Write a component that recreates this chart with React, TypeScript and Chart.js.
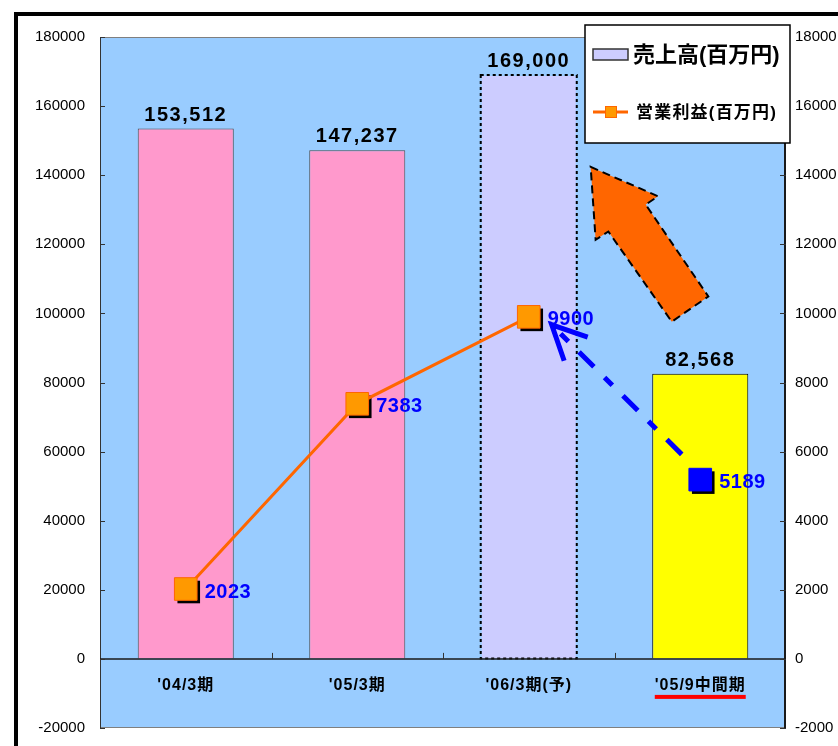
import React, { useEffect, useRef } from 'react';
import { Chart, registerables } from 'chart.js';

Chart.register(...registerables);

// ---- data ----
const categories: string[] = ["'04/3期", "'05/3期", "'06/3期(予)", "'05/9中間期"];
const salesValues: number[] = [153512, 147237, 169000, 82568];
const profitValues: number[] = [2023, 7383, 9900, 5189];
const salesLabel = '売上高(百万円)';
const profitLabel = '営業利益(百万円)';
const leftAxis = { min: -20000, max: 180000, step: 20000 };
const rightAxis = { min: -2000, max: 18000, step: 2000 };
const forecastIndex = 2; // dotted outline bar
const interimIndex = 3; // underlined / blue marker

// ---- styles ----
const barFill = ['#FF99CC', '#FF99CC', '#CCCCFF', '#FFFF00'];
const barBorder = ['#4D4D4D', '#4D4D4D', 'rgba(0,0,0,0)', '#000000'];
const pointFill = ['#FF9900', '#FF9900', '#FF9900', '#0000FF'];
const pointBorder = ['#FF6600', '#FF6600', '#FF6600', '#0000FF'];
const LATIN = '"Liberation Sans", Arial, "Noto Sans CJK JP", sans-serif';
const CJK = '"Liberation Sans", "Noto Sans CJK JP", sans-serif';

// annotation anchors in scale units (x: category index, y: axis value)
const trendArrowFrom = { x: 2.892, y: 5920 }; // y1 axis
const trendArrowTo = { x: 2.134, y: 9670 }; // y1 axis
const bigArrowPts: [number, number][] = [
  [2.361, 142400],
  [2.754, 133900],
  [2.682, 131500],
  [3.047, 104900],
  [2.834, 97600],
  [2.464, 123700],
  [2.39, 121300],
];

const fmt = (v: number) => v.toLocaleString('en-US');

const decorPlugin = {
  id: 'decor',
  beforeDraw(chart: any) {
    const { ctx, chartArea: a, width, height } = chart;
    ctx.save();
    ctx.fillStyle = '#FFFFFF';
    ctx.fillRect(0, 0, width, height);
    ctx.fillStyle = '#000000';
    ctx.fillRect(14, 12, 4, height - 12);
    ctx.fillRect(14, 12, width - 14, 4);
    ctx.fillStyle = '#99CCFF';
    ctx.fillRect(a.left, a.top, a.right - a.left, a.bottom - a.top);
    ctx.restore();
  },
  beforeDatasetDraw(chart: any, args: any) {
    const meta = args.meta;
    if (meta.type !== 'line') return;
    const { ctx } = chart;
    ctx.save();
    ctx.fillStyle = '#000000';
    const s = 22.6;
    meta.data.forEach((p: any) => {
      ctx.fillRect(p.x - s / 2 + 3, p.y - s / 2 + 3, s, s);
    });
    ctx.restore();
  },
  afterDatasetDraw(chart: any, args: any) {
    const meta = args.meta;
    if (meta.type !== 'bar') return;
    const { ctx } = chart;
    const bar = meta.data[forecastIndex];
    if (!bar) return;
    const { x, y, base, width } = bar.getProps(['x', 'y', 'base', 'width'], true);
    ctx.save();
    ctx.strokeStyle = '#000000';
    ctx.lineWidth = 2;
    ctx.setLineDash([3, 3]);
    ctx.strokeRect(x - width / 2, y, width, base - y);
    ctx.restore();
  },
  afterDatasetsDraw(chart: any) {
    const { ctx, chartArea: a, scales } = chart;
    const xs = scales.x;
    const ys = scales.y;
    const y1 = scales.y1;
    const zeroY = ys.getPixelForValue(0);
    ctx.save();

    // plot border
    ctx.strokeStyle = '#7F7F7F';
    ctx.lineWidth = 1;
    ctx.strokeRect(a.left + 0.5, a.top + 0.5, a.right - a.left - 1, a.bottom - a.top - 1);
    ctx.strokeStyle = '#333333';
    ctx.lineWidth = 1;
    ctx.beginPath();
    ctx.moveTo(a.left + 0.5, a.top);
    ctx.lineTo(a.left + 0.5, a.bottom);
    ctx.stroke();
    ctx.lineWidth = 2;
    ctx.strokeStyle = '#1A1A1A';
    ctx.beginPath();
    ctx.moveTo(a.right - 1, a.top);
    ctx.lineTo(a.right - 1, a.bottom);
    ctx.stroke();

    // zero line
    ctx.strokeStyle = '#1A1A1A';
    ctx.lineWidth = 1.5;
    ctx.beginPath();
    ctx.moveTo(a.left, zeroY);
    ctx.lineTo(a.right, zeroY);
    ctx.stroke();

    // inward ticks
    ctx.strokeStyle = '#333333';
    ctx.lineWidth = 1;
    ctx.beginPath();
    ys.ticks.forEach((t: any) => {
      const py = Math.round(ys.getPixelForValue(t.value)) + 0.5;
      ctx.moveTo(a.left, py);
      ctx.lineTo(a.left + 5, py);
    });
    y1.ticks.forEach((t: any) => {
      const py = Math.round(y1.getPixelForValue(t.value)) + 0.5;
      ctx.moveTo(a.right, py);
      ctx.lineTo(a.right - 6, py);
    });
    for (let i = 1; i < categories.length; i++) {
      const px = Math.round((xs.getPixelForValue(i - 1) + xs.getPixelForValue(i)) / 2) + 0.5;
      ctx.moveTo(px, zeroY);
      ctx.lineTo(px, zeroY - 6);
    }
    ctx.stroke();

    // category labels
    ctx.fillStyle = '#000000';
    ctx.font = `bold 16px ${CJK}`;
    (ctx as any).letterSpacing = '1px';
    ctx.textAlign = 'center';
    ctx.textBaseline = 'middle';
    categories.forEach((c, i) => {
      const px = xs.getPixelForValue(i);
      ctx.fillText(c, px, zeroY + 27);
      if (i === interimIndex) {
        const w = ctx.measureText(c).width;
        ctx.fillStyle = '#FF0000';
        ctx.fillRect(px - w / 2, zeroY + 36, w, 4);
        ctx.fillStyle = '#000000';
      }
    });

    // bar value labels
    const barMeta = chart.getDatasetMeta(1);
    ctx.font = `bold 20px ${LATIN}`;
    (ctx as any).letterSpacing = '1.5px';
    ctx.textAlign = 'center';
    ctx.textBaseline = 'alphabetic';
    barMeta.data.forEach((b: any, i: number) => {
      ctx.fillText(fmt(salesValues[i]), b.x, b.y - 8);
    });

    // point value labels
    const lineMeta = chart.getDatasetMeta(0);
    ctx.fillStyle = '#0000FF';
    ctx.font = `bold 20px ${LATIN}`;
    (ctx as any).letterSpacing = '0.5px';
    ctx.textAlign = 'left';
    ctx.textBaseline = 'middle';
    lineMeta.data.forEach((p: any, i: number) => {
      ctx.fillText(String(profitValues[i]), p.x + 19, p.y + 3);
    });
    (ctx as any).letterSpacing = '0px';

    // blue dashed trend arrow
    const fx = xs.getPixelForValue(trendArrowFrom.x);
    const fy = y1.getPixelForValue(trendArrowFrom.y);
    const tx = xs.getPixelForValue(trendArrowTo.x);
    const ty = y1.getPixelForValue(trendArrowTo.y);
    ctx.strokeStyle = '#0000FF';
    ctx.lineWidth = 5;
    ctx.lineCap = 'butt';
    ctx.setLineDash([21, 15, 11, 15]);
    ctx.beginPath();
    ctx.moveTo(fx, fy);
    ctx.lineTo(tx, ty);
    ctx.stroke();
    ctx.setLineDash([]);
    const ang = Math.atan2(fy - ty, fx - tx);
    const hl = 38;
    const spread = (26 * Math.PI) / 180;
    ctx.beginPath();
    ctx.moveTo(tx + hl * Math.cos(ang - spread), ty + hl * Math.sin(ang - spread));
    ctx.lineTo(tx, ty);
    ctx.lineTo(tx + hl * Math.cos(ang + spread), ty + hl * Math.sin(ang + spread));
    ctx.stroke();

    // big orange arrow
    ctx.beginPath();
    bigArrowPts.forEach(([vx, vy], i) => {
      const px = xs.getPixelForValue(vx);
      const py = ys.getPixelForValue(vy);
      if (i === 0) ctx.moveTo(px, py);
      else ctx.lineTo(px, py);
    });
    ctx.closePath();
    ctx.fillStyle = '#FF6600';
    ctx.fill();
    ctx.strokeStyle = '#000000';
    ctx.lineWidth = 2;
    ctx.setLineDash([8, 5]);
    ctx.stroke();
    ctx.setLineDash([]);

    // legend
    const lx = a.right - 201;
    const ly = a.top - 12;
    ctx.fillStyle = '#FFFFFF';
    ctx.fillRect(lx, ly, 205, 118);
    ctx.strokeStyle = '#000000';
    ctx.lineWidth = 1.5;
    ctx.strokeRect(lx, ly, 205, 118);
    const ds = chart.data.datasets;
    // sales item
    ctx.fillStyle = '#CCCCFF';
    ctx.fillRect(lx + 8, ly + 24, 35, 11);
    ctx.strokeStyle = '#333333';
    ctx.lineWidth = 1.5;
    ctx.strokeRect(lx + 8, ly + 24, 35, 11);
    ctx.fillStyle = '#000000';
    ctx.font = `bold 22px ${CJK}`;
    ctx.textAlign = 'left';
    ctx.textBaseline = 'middle';
    ctx.fillText(ds[1].label, lx + 48, ly + 31);
    // profit item
    ctx.strokeStyle = '#FF6600';
    ctx.lineWidth = 3;
    ctx.beginPath();
    ctx.moveTo(lx + 8, ly + 87);
    ctx.lineTo(lx + 43, ly + 87);
    ctx.stroke();
    ctx.fillStyle = '#FF9900';
    ctx.fillRect(lx + 20, ly + 81, 12, 12);
    ctx.strokeStyle = '#FF6600';
    ctx.lineWidth = 1;
    ctx.strokeRect(lx + 20.5, ly + 81.5, 11, 11);
    ctx.fillStyle = '#000000';
    ctx.font = `bold 17px ${CJK}`;
    (ctx as any).letterSpacing = '1.2px';
    ctx.fillText(ds[0].label, lx + 51, ly + 88);
    (ctx as any).letterSpacing = '0px';

    ctx.restore();
  },
};

export default function App() {
  const ref = useRef<HTMLCanvasElement | null>(null);
  useEffect(() => {
    if (!ref.current) return;
    const chart = new Chart(ref.current, {
      type: 'bar',
      data: {
        labels: categories,
        datasets: [
          {
            type: 'line',
            label: profitLabel,
            data: profitValues,
            yAxisID: 'y1',
            borderColor: '#FF6600',
            borderWidth: 3,
            pointStyle: 'rect',
            pointRadius: 16,
            pointHoverRadius: 16,
            pointBackgroundColor: pointFill,
            pointBorderColor: pointBorder,
            pointBorderWidth: 1,
            tension: 0,
            segment: {
              borderColor: (c: any) => (c.p1DataIndex === interimIndex ? 'rgba(0,0,0,0)' : '#FF6600'),
            },
            order: 0,
          } as any,
          {
            type: 'bar',
            label: salesLabel,
            data: salesValues,
            yAxisID: 'y',
            backgroundColor: barFill,
            borderColor: barBorder,
            borderWidth: 1,
            barPercentage: 0.56,
            categoryPercentage: 1,
            order: 1,
          },
        ],
      },
      options: {
        animation: false,
        responsive: false,
        events: [],
        layout: { padding: { top: 37, bottom: 18, left: 0, right: 0 } },
        plugins: { legend: { display: false }, tooltip: { enabled: false } },
        scales: {
          x: { display: false, offset: true },
          y: {
            position: 'left',
            min: leftAxis.min,
            max: leftAxis.max,
            ticks: {
              stepSize: leftAxis.step,
              callback: (v: any) => String(v),
              color: '#000000',
              font: { family: LATIN, size: 15 },
              padding: 15,
            },
            grid: { drawOnChartArea: false, drawTicks: false },
            border: { display: false },
            afterFit: (s: any) => {
              s.width = 100;
              s.paddingTop = 9;
              s.paddingBottom = 9;
            },
          },
          y1: {
            position: 'right',
            min: rightAxis.min,
            max: rightAxis.max,
            ticks: {
              stepSize: rightAxis.step,
              callback: (v: any) => String(v),
              color: '#000000',
              font: { family: LATIN, size: 15 },
              padding: 9,
            },
            grid: { drawOnChartArea: false, drawTicks: false },
            border: { display: false },
            afterFit: (s: any) => {
              s.width = 52;
              s.paddingTop = 9;
              s.paddingBottom = 9;
            },
          },
        },
      } as any,
      plugins: [decorPlugin],
    });
    return () => chart.destroy();
  }, []);
  return (
    <div style={{ position: 'absolute', left: 0, top: 0, width: 838, height: 746, overflow: 'hidden' }}>
      <canvas ref={ref} width={838} height={746} style={{ display: 'block', width: 838, height: 746 }} />
    </div>
  );
}
